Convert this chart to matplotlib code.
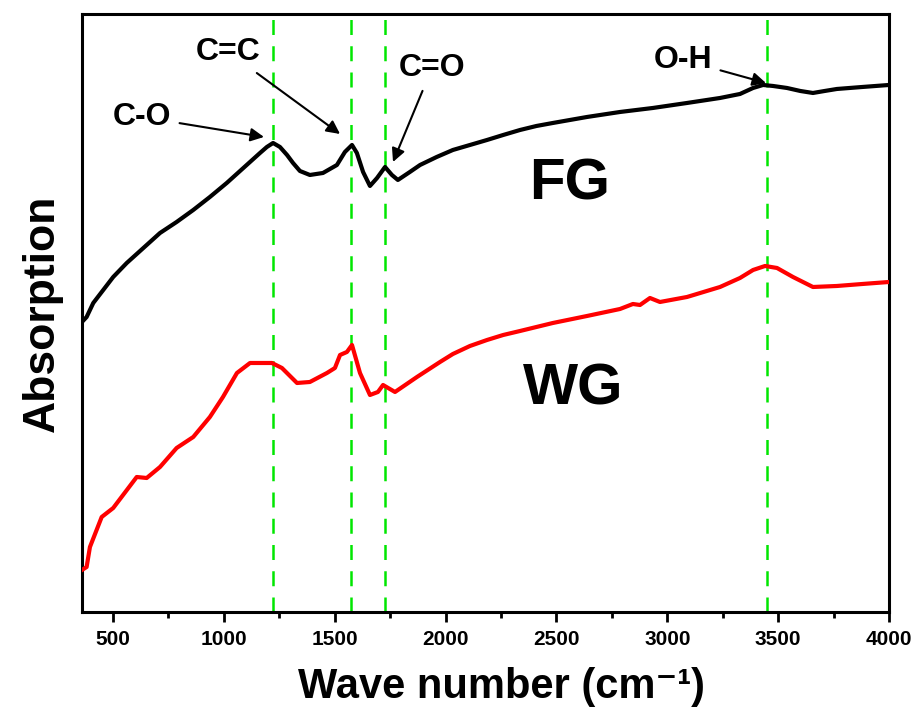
import numpy as np
import matplotlib
matplotlib.use("Agg")
import matplotlib.pyplot as plt
from matplotlib.ticker import MultipleLocator

plt.rcParams["font.family"] = ["Liberation Sans", "DejaVu Sans"]
plt.rcParams["font.weight"] = "bold"

# FTIR spectra (wave number in cm^-1, absorption in a.u.)
fg_wn = [360, 381, 411, 456, 501, 562, 637, 712, 787, 862, 937, 1013, 1088, 1163,
         1194, 1222, 1253, 1285, 1312, 1343, 1388, 1447, 1510, 1546, 1578, 1600,
         1628, 1659, 1691, 1727, 1758, 1785, 1839, 1885, 1960, 2033, 2110, 2187,
         2260, 2336, 2410, 2484, 2638, 2787, 2935, 3089, 3238, 3328, 3387, 3432,
         3477, 3540, 3600, 3657, 3710, 3765, 3880, 4000]
fg_abs = [2.90, 2.95, 3.09, 3.22, 3.35, 3.49, 3.64, 3.79, 3.90, 4.02, 4.15, 4.29,
          4.44, 4.59, 4.65, 4.69, 4.65, 4.57, 4.49, 4.41, 4.37, 4.39, 4.47, 4.60,
          4.67, 4.59, 4.40, 4.26, 4.34, 4.45, 4.37, 4.32, 4.40, 4.47, 4.55, 4.62,
          4.67, 4.72, 4.77, 4.82, 4.86, 4.89, 4.95, 5.00, 5.04, 5.09, 5.14, 5.18,
          5.24, 5.27, 5.26, 5.24, 5.21, 5.19, 5.21, 5.23, 5.25, 5.27]

wg_wn = [360, 381, 396, 449, 501, 607, 652, 712, 787, 862, 937, 996, 1059, 1118,
         1217, 1262, 1330, 1388, 1465, 1501, 1524, 1555, 1578, 1614, 1659, 1695,
         1718, 1741, 1772, 1871, 1975, 2033, 2110, 2187, 2260, 2336, 2410, 2484,
         2638, 2787, 2845, 2877, 2922, 2967, 3089, 3238, 3328, 3387, 3441, 3495,
         3567, 3657, 3765, 3880, 4000]
wg_abs = [0.42, 0.45, 0.65, 0.95, 1.04, 1.35, 1.34, 1.45, 1.64, 1.75, 1.95, 2.15,
          2.39, 2.49, 2.49, 2.44, 2.29, 2.30, 2.39, 2.44, 2.57, 2.60, 2.67, 2.39,
          2.17, 2.20, 2.27, 2.24, 2.20, 2.35, 2.50, 2.58, 2.66, 2.72, 2.77, 2.81,
          2.85, 2.89, 2.96, 3.03, 3.08, 3.07, 3.14, 3.10, 3.15, 3.25, 3.34, 3.42,
          3.46, 3.44, 3.35, 3.25, 3.26, 3.28, 3.30]

# characteristic bands (cm^-1)
band_wn = [1220, 1575, 1725, 3450]
band_names = ["C-O", "C=C", "C=O", "O-H"]
label_pos = [(631, 4.95), (1019, 5.60), (1939, 5.44), (3071, 5.52)]
arrow_tip = [(1181, 4.75), (1524, 4.78), (1763, 4.50), (3445, 5.29)]

fig = plt.figure(figsize=(9.24, 7.24), dpi=100)
ax = fig.add_axes([0.0887, 0.1547, 0.8734, 0.826])

for wn in band_wn:
    ax.axvline(wn, color="#00E600", lw=1.8, ls=(0, (6, 4.5)), zorder=1)

ax.plot(fg_wn, fg_abs, color="black", lw=3, zorder=3, solid_joinstyle="round")
ax.plot(wg_wn, wg_abs, color="#FF0000", lw=3, zorder=3, solid_joinstyle="round")

for name, pos, tip in zip(band_names, label_pos, arrow_tip):
    ax.annotate(name, xy=tip, xytext=pos, ha="center", va="center",
                fontsize=23, fontweight="bold",
                arrowprops=dict(arrowstyle="-|>", color="black", lw=1.5,
                                mutation_scale=20, shrinkA=4, shrinkB=0))

ax.text(2561, 4.27, "FG", fontsize=42, fontweight="bold", ha="center", va="center")
ax.text(2575, 2.22, "WG", fontsize=42, fontweight="bold", ha="center", va="center")

ax.set_xlim(360, 4000)
ax.set_ylim(0, 5.98)
ax.xaxis.set_major_locator(MultipleLocator(500))
ax.xaxis.set_minor_locator(MultipleLocator(250))
ax.set_yticks([])
ax.tick_params(axis="x", which="major", direction="out", length=7, width=2,
               labelsize=15, pad=6)
ax.tick_params(axis="x", which="minor", direction="out", length=4, width=2)
for lab in ax.get_xticklabels():
    lab.set_fontweight("bold")
for sp in ax.spines.values():
    sp.set_linewidth(2.2)

ax.set_xlabel("Wave number (cm\u207b\u00b9)", fontsize=30, fontweight="bold", labelpad=13)
ax.xaxis.label.set_x(0.52)
ax.set_ylabel("Absorption", fontsize=32, fontweight="bold", labelpad=14)

fig.savefig("out.png", dpi=100)
